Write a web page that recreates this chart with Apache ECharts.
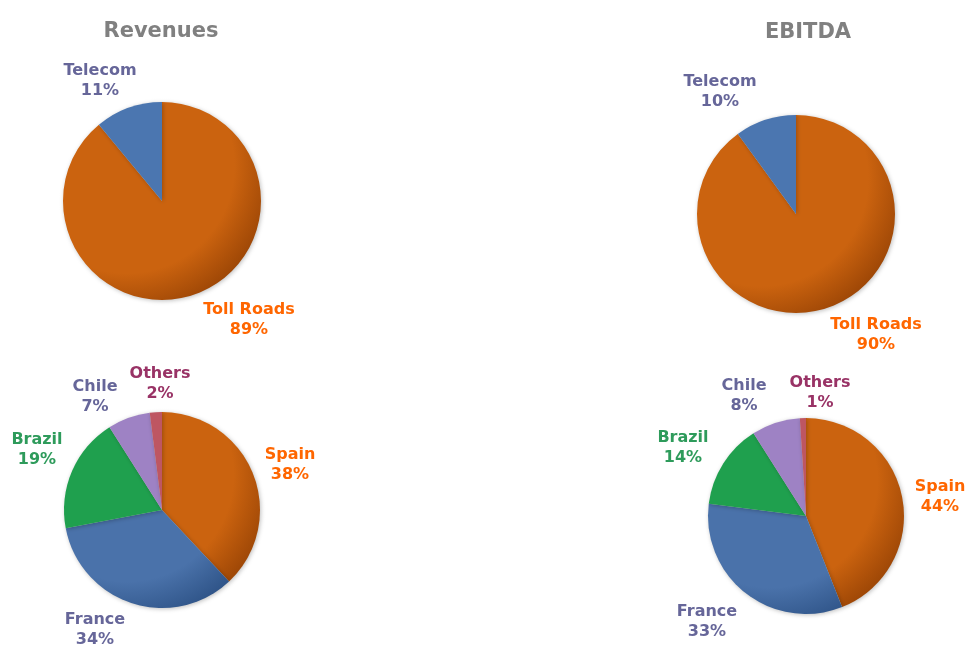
<!DOCTYPE html>
<html><head><meta charset="utf-8">
<script src="https://cdn.jsdelivr.net/npm/echarts@6/dist/echarts.min.js"></script>
<style>html,body{margin:0;padding:0;background:#fff}#c{width:968px;height:646px}</style>
</head><body><div id="c"></div>
<script>
// ---- data ----
const segmentCategories = ['Toll Roads', 'Telecom'];
const revenuesBySegment = [89, 11];
const ebitdaBySegment = [90, 10];
const countryCategories = ['Spain', 'France', 'Brazil', 'Chile', 'Others'];
const revenuesByCountry = [38, 34, 19, 7, 2];
const ebitdaByCountry = [44, 33, 14, 8, 1];
const chartTitles = ['Revenues', 'EBITDA'];

// ---- styling ----
const FONT = 'DejaVu Sans';
const sliceColors = {
  'Toll Roads': ['#CB630F', '#9E4706'], 'Telecom': ['#4B76B0', '#2F5488'],
  'Spain': ['#CB630F', '#9E4706'], 'France': ['#4A72AA', '#2F5488'],
  'Brazil': ['#1FA04E', '#117A36'], 'Chile': ['#9E82C4', '#7A60A0'],
  'Others': ['#BE5662', '#943844']
};
const labelColors = {
  'Toll Roads': '#FF6600', 'Spain': '#FF6600', 'Telecom': '#666699', 'Chile': '#666699',
  'France': '#666699', 'Brazil': '#2E9B5B', 'Others': '#993366'
};
const layouts = [
  { center: [162, 201], r: 99, labels: { 'Toll Roads': [249, 320], 'Telecom': [100, 81] } },
  { center: [796, 214], r: 99, labels: { 'Toll Roads': [876, 335], 'Telecom': [720, 92] } },
  { center: [162, 510], r: 98, labels: { 'Spain': [290, 465], 'France': [95, 630], 'Brazil': [37, 450], 'Chile': [95, 397], 'Others': [160, 384] } },
  { center: [806, 516], r: 98, labels: { 'Spain': [940, 497], 'France': [707, 622], 'Brazil': [683, 448], 'Chile': [744, 396], 'Others': [820, 393] } }
];

function makeSeries(idx, names, values) {
  const L = layouts[idx];
  const [cx, cy] = L.center;
  return {
    type: 'pie',
    center: L.center,
    radius: [0, L.r],
    startAngle: 90,
    clockwise: true,
    animation: false,
    silent: true,
    data: names.map((n, i) => ({
      name: n, value: values[i],
      itemStyle: {
        color: {
          type: 'radial', global: true, x: cx - 35, y: cy - 35, r: L.r + 50,
          colorStops: [
            { offset: 0, color: sliceColors[n][0] },
            { offset: 0.72, color: sliceColors[n][0] },
            { offset: 1, color: sliceColors[n][1] }
          ]
        }
      },
      label: { color: labelColors[n] }
    })),
    itemStyle: { borderWidth: 0, shadowBlur: 4, shadowColor: 'rgba(0,0,0,0.25)', shadowOffsetX: 1, shadowOffsetY: 1 },
    label: {
      show: true, position: 'outside', formatter: '{b}\n{c}%', overflow: 'none',
      fontFamily: FONT, fontWeight: 'bold', fontSize: 16, lineHeight: 20, align: 'center'
    },
    labelLine: { show: false },
    labelLayout: function (p) {
      const pos = L.labels[names[p.dataIndex]];
      return { x: pos[0], y: pos[1], align: 'center', verticalAlign: 'middle', hideOverlap: false, moveOverlap: false };
    }
  };
}

const chart = echarts.init(document.getElementById('c'), null, { renderer: 'canvas' });
chart.setOption({
  backgroundColor: '#ffffff',
  title: [
    { text: chartTitles[0], left: 156, top: 16, textAlign: 'center',
      textStyle: { fontFamily: FONT, fontWeight: 'bold', fontSize: 21, color: '#808080' } },
    { text: chartTitles[1], left: 803, top: 17, textAlign: 'center',
      textStyle: { fontFamily: FONT, fontWeight: 'bold', fontSize: 21, color: '#808080' } }
  ],
  series: [
    makeSeries(0, segmentCategories, revenuesBySegment),
    makeSeries(1, segmentCategories, ebitdaBySegment),
    makeSeries(2, countryCategories, revenuesByCountry),
    makeSeries(3, countryCategories, ebitdaByCountry)
  ]
});
</script></body></html>
